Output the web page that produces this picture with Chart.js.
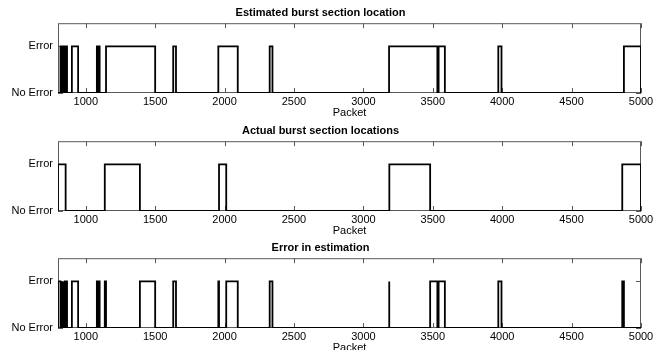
<!DOCTYPE html>
<html>
<head>
<meta charset="utf-8">
<script src="https://cdn.jsdelivr.net/npm/chart.js@4"></script>
<style>
  body { margin: 0; background: #fff; }
  #wrap { position: relative; width: 666px; height: 350px; overflow: hidden; }
  canvas { position: absolute; left: 0; }
</style>
</head>
<body>
<div id="wrap">
  <canvas id="estChart" width="666" height="117" style="top:0px"></canvas>
  <canvas id="actChart" width="666" height="117" style="top:118px"></canvas>
  <canvas id="errChart" width="666" height="117" style="top:235px"></canvas>
</div>
<script>
/* ============================================
   DATA (burst sections, packet numbers)
   ============================================ */

const titles = ["Estimated burst section location", "Actual burst section locations", "Error in estimation"];
const yLabels = ["No Error", "Error"];
const xTicks = [1000, 1500, 2000, 2500, 3000, 3500, 4000, 4500, 5000];

const estStart = [818, 827, 835, 843, 851, 859, 900, 1080, 1087, 1094, 1146, 1630, 1955, 2325, 3185, 3542, 3972, 4877];
const estEnd   = [824, 832, 840, 848, 856, 865, 945, 1084, 1091, 1100, 1500, 1650, 2095, 2345, 3533, 3587, 3995, 5000];

const actStart = [800, 1137, 1960, 3187, 4865];
const actEnd   = [855, 1390, 2012, 3481, 5000];

const errStart = [800, 824, 832, 840, 848, 855, 859, 900, 1080, 1087, 1094, 1137, 1390, 1630, 1955, 2012, 2325, 3185, 3481, 3542, 3972, 4865];
const errEnd   = [818, 827, 835, 843, 851, 856, 865, 945, 1084, 1091, 1100, 1146, 1500, 1650, 1960, 2095, 2345, 3187, 3533, 3587, 3995, 4877];

/* ============================================
   HELPERS
   ============================================ */

function toSteps(starts, ends) {
    const pts = [{ x: 800, y: 0 }];
    starts.forEach(function (s, i) {
        pts.push({ x: s, y: 0 }, { x: s, y: 1 }, { x: ends[i], y: 1 }, { x: ends[i], y: 0 });
    });
    pts.push({ x: 5000, y: 0 });
    return pts;
}

// matlab style box with inward ticks
const boxPlugin = {
    id: "box",
    beforeDatasetsDraw(chart) {
        const { ctx, chartArea: a, scales: { x, y } } = chart;
        ctx.save();
        ctx.strokeStyle = "#5a5a5a";
        ctx.lineWidth = 1;
        ctx.strokeRect(a.left + 0.5, a.top + 0.5, a.width - 1, a.height - 1);
        ctx.beginPath();
        x.ticks.forEach(function (t) {
            const px = Math.round(x.getPixelForValue(t.value)) + 0.5;
            ctx.moveTo(px, a.bottom); ctx.lineTo(px, a.bottom - 5);
            ctx.moveTo(px, a.top); ctx.lineTo(px, a.top + 5);
        });
        y.ticks.forEach(function (t) {
            const py = Math.round(y.getPixelForValue(t.value)) + 0.5;
            ctx.moveTo(a.left, py); ctx.lineTo(a.left + 5, py);
            ctx.moveTo(a.right, py); ctx.lineTo(a.right - 5, py);
        });
        ctx.stroke();
        ctx.restore();
    }
};

const tickFont = { family: "'Liberation Sans', Arial, sans-serif", size: 11 };

function makeChart(id, title, starts, ends) {
    return new Chart(document.getElementById(id), {
        type: "scatter",
        data: {
            datasets: [{
                data: toSteps(starts, ends),
                showLine: true,
                borderColor: "#000",
                borderWidth: 1.8,
                pointRadius: 0,
                tension: 0
            }]
        },
        options: {
            responsive: false,
            animation: false,
            devicePixelRatio: 1,
            layout: { padding: { left: 0, right: 25, top: 0, bottom: 0 } },
            plugins: {
                legend: { display: false },
                tooltip: { enabled: false },
                title: {
                    display: true,
                    text: title,
                    color: "#000",
                    font: { family: "'Liberation Sans', Arial, sans-serif", size: 11, weight: "bold" },
                    padding: { top: 6, bottom: 4 }
                }
            },
            scales: {
                x: {
                    type: "linear",
                    min: 800,
                    max: 5000,
                    grid: { display: false, drawTicks: false },
                    border: { display: false },
                    afterBuildTicks: function (s) { s.ticks = xTicks.map(function (v) { return { value: v }; }); },
                    afterFit: function (s) { s.height = 24; },
                    ticks: {
                        color: "#000",
                        font: tickFont,
                        padding: 2,
                        maxRotation: 0,
                        callback: function (v) { return String(v); }
                    },
                    title: {
                        display: true,
                        text: "Packet",
                        color: "#000",
                        font: tickFont,
                        padding: { top: 0, bottom: -3 }
                    }
                },
                y: {
                    min: 0,
                    max: 1.5,
                    grid: { display: false, drawTicks: false },
                    border: { display: false },
                    afterBuildTicks: function (s) { s.ticks = [{ value: 0 }, { value: 1 }]; },
                    afterFit: function (s) { s.width = 58; },
                    ticks: {
                        color: "#000",
                        font: tickFont,
                        padding: 5,
                        callback: function (v) { return yLabels[v]; }
                    }
                }
            }
        },
        plugins: [boxPlugin]
    });
}

makeChart("estChart", titles[0], estStart, estEnd);
makeChart("actChart", titles[1], actStart, actEnd);
makeChart("errChart", titles[2], errStart, errEnd);
</script>
</body>
</html>
